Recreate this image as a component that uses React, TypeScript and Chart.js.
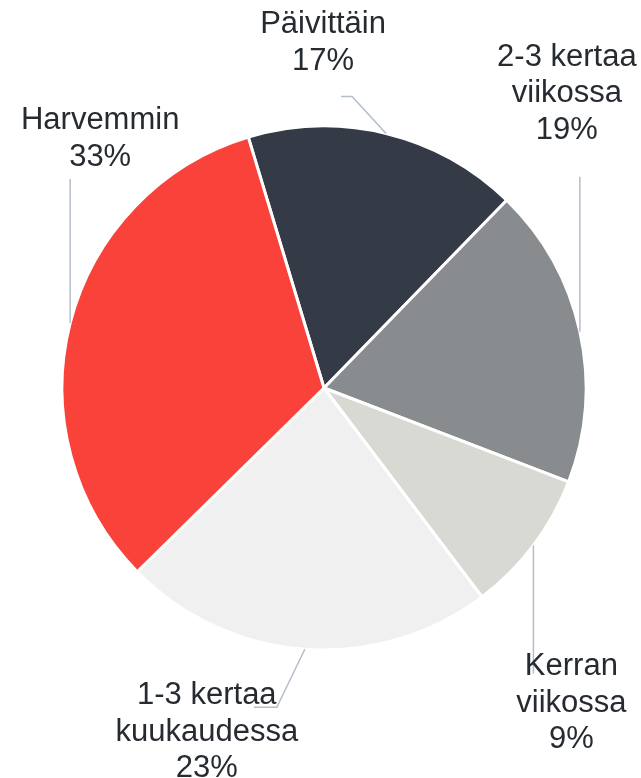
import React, { useEffect, useRef } from "react";
import { Chart, registerables } from "chart.js";

Chart.register(...registerables);

const categories = ["Päivittäin", "2-3 kertaa viikossa", "Kerran viikossa", "1-3 kertaa kuukaudessa", "Harvemmin"];
const labelLines = [["Päivittäin"], ["2-3 kertaa", "viikossa"], ["Kerran", "viikossa"], ["1-3 kertaa", "kuukaudessa"], ["Harvemmin"]];
const values = [17, 18.6, 8.9, 23, 32.8];
const colors = ["#343a46", "#898c8e", "#d9d9d4", "#f0f0f0", "#f9423a"];

// leader-line and text offsets relative to the slice's outer mid-point
const labelLayout = [
  { pts: [[-34, -37], [-45, -37]], tx: -63, ty: -100 },
  { pts: [[0, -155]], tx: -13, ty: -266 },
  { pts: [[0, 128]], tx: 38, ty: 130 },
  { pts: [[-28, 58], [-51, 58]], tx: -98, ty: 55 },
  { pts: [[0, -144]], tx: 30, ty: -194 },
];

const labelPlugin = {
  id: "pieLabels",
  afterDraw(chart: any) {
    const ctx = chart.ctx;
    const meta = chart.getDatasetMeta(0);
    const data = chart.data.datasets[0].data as number[];
    const total = data.reduce((a, b) => a + b, 0);
    meta.data.forEach((arc: any, i: number) => {
      const { x, y, startAngle, endAngle, outerRadius } = arc.getProps(["x", "y", "startAngle", "endAngle", "outerRadius"], true);
      const mid = (startAngle + endAngle) / 2;
      const ax = x + Math.cos(mid) * outerRadius;
      const ay = y + Math.sin(mid) * outerRadius;
      const lay = labelLayout[i];
      ctx.save();
      ctx.strokeStyle = "#b4bdca";
      ctx.lineWidth = 1.5;
      ctx.beginPath();
      ctx.moveTo(ax, ay);
      lay.pts.forEach((p) => ctx.lineTo(ax + p[0], ay + p[1]));
      ctx.stroke();
      ctx.fillStyle = "#262b31";
      ctx.font = "31px 'Liberation Sans', Arial, sans-serif";
      ctx.textAlign = "center";
      ctx.textBaseline = "alphabetic";
      const lines = [...labelLines[i], Math.round((data[i] / total) * 100) + "%"];
      lines.forEach((t, k) => {
        ctx.fillText(t, ax + lay.tx, ay + lay.ty + k * 36.5);
      });
      ctx.restore();
    });
  },
};

export default function App() {
  const ref = useRef<HTMLCanvasElement>(null);
  useEffect(() => {
    document.body.style.margin = "0";
    const chart = new Chart(ref.current!, {
      type: "pie",
      data: {
        labels: categories,
        datasets: [
          {
            data: values,
            backgroundColor: colors,
            borderColor: "#ffffff",
            borderWidth: 3,
          },
        ],
      },
      options: {
        animation: false,
        responsive: false,
        rotation: -16.8,
        radius: 262,
        layout: { padding: { left: 7, right: 0, top: 0, bottom: 2 } },
        plugins: { legend: { display: false }, tooltip: { enabled: false } },
      },
      plugins: [labelPlugin],
    });
    return () => chart.destroy();
  }, []);
  return (
    <div style={{ width: 641, height: 778 }}>
      <canvas ref={ref} width={641} height={778} style={{ display: "block" }} />
    </div>
  );
}
